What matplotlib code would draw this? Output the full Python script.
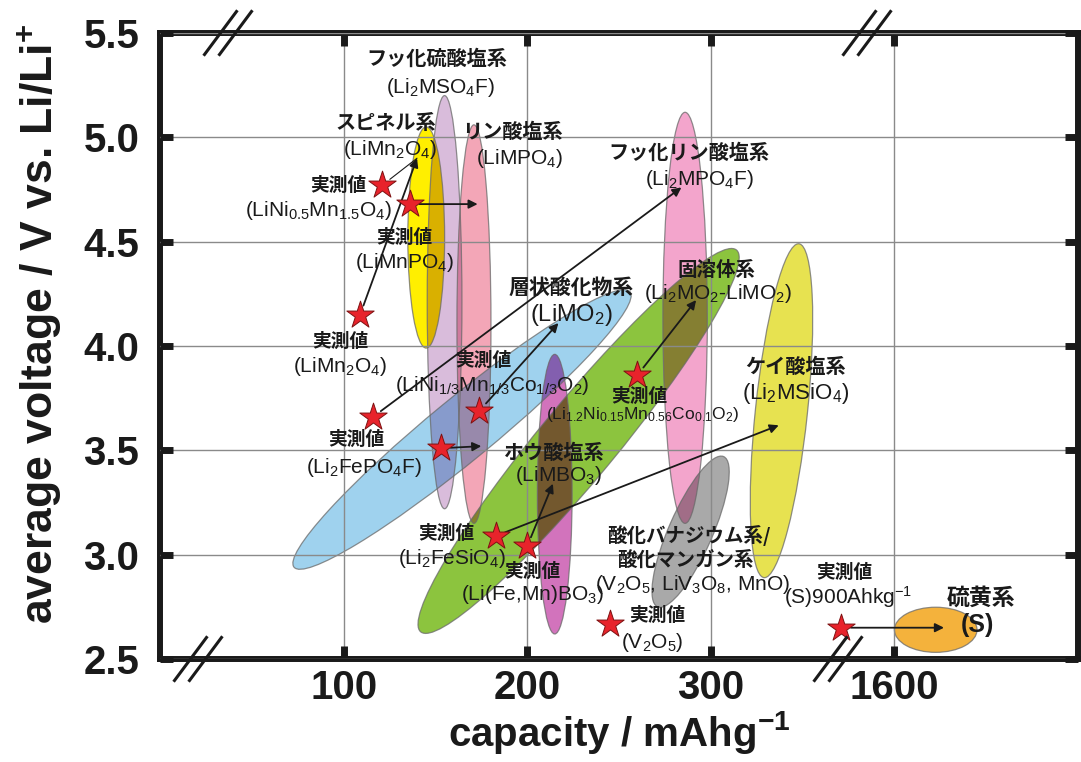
import numpy as np
import matplotlib
matplotlib.use("Agg")
import matplotlib.pyplot as plt
from matplotlib.patches import Ellipse
from matplotlib.transforms import IdentityTransform
from matplotlib.colors import to_rgb

plt.rcParams['font.family'] = ['Liberation Sans', 'Noto Sans CJK JP', 'DejaVu Sans']
plt.rcParams['mathtext.fontset'] = 'custom'
plt.rcParams['mathtext.rm'] = 'Liberation Sans'
plt.rcParams['mathtext.it'] = 'Liberation Sans:italic'
plt.rcParams['mathtext.bf'] = 'Liberation Sans:bold'

#-----data-----

# material families: (capacity mAh/g, voltage V) at both ends of each region
family_keys = ["spinel", "fluorosulfate", "phosphate", "layered", "solid_solution",
               "borate", "fluorophosphate", "vanadium", "silicate", "sulfur"]
family_cap_lo = [145, 155, 171, 73, 142, 215, 286, 271, 329, 1600]
family_v_lo = [3.99, 3.22, 3.15, 2.94, 2.63, 2.62, 3.15, 2.75, 2.89, 2.64]
family_cap_hi = [145, 155, 171, 256, 314, 215, 286, 307, 348, 1645]
family_v_hi = [5.05, 5.20, 5.06, 4.26, 4.46, 3.96, 5.12, 3.47, 4.49, 2.64]

# measured cells (stars) and the family each one points to
meas_keys = ["LiNi0.5Mn1.5O4", "LiMnPO4", "LiMn2O4", "Li2FePO4F", "LiNi1/3Mn1/3Co1/3O2",
             "LiFePO4", "Li1.2Ni0.15Mn0.56Co0.1O2", "Li2FeSiO4", "Li(Fe,Mn)BO3", "V2O5", "S"]
meas_cap = [121, 136, 109, 116, 174, 153, 260, 183, 200, 245, 900]
meas_v = [4.77, 4.68, 4.15, 3.66, 3.69, 3.51, 3.86, 3.09, 3.04, 2.67, 2.65]
target_cap = [140, 173, 140, 284, 217, 175, 292, 337, 214, None, 1627]
target_v = [4.90, 4.68, 4.90, 4.76, 4.11, 3.52, 4.22, 3.62, 3.34, None, 2.65]

xtick_vals = [100, 200, 300, 1600]
ytick_vals = [2.5, 3.0, 3.5, 4.0, 4.5, 5.0, 5.5]

# broken capacity axis: 360..1580 squeezed into a short gap
real_knots = np.array([-200.0, 360.0, 900.0, 1580.0, 2400.0])
comp_knots = np.array([-200.0, 360.0, 371.0, 380.0, 1200.0])

def fwd(x):
    return np.interp(x, real_knots, comp_knots)

def inv(x):
    return np.interp(x, comp_knots, real_knots)

#-----style-----
fill_colors = ['#FFEF00', '#D9BCDB', '#F3A6B7', '#9FD2EE', '#8CC43E',
               '#D273BC', '#F3A5CC', '#A9A9A9', '#E7E250', '#F4B23C']
thick_pt = [26.5, 25, 24.5, 45, 55, 25, 32, 31.5, 37.5, 32.5]
ink = '#1a1a1a'

fig = plt.figure(figsize=(10.81, 7.62), dpi=100)
ax = fig.add_axes([160 / 1081, 103 / 762, 918 / 1081, 626 / 762])
ax.set_xscale('function', functions=(fwd, inv))
ax.set_xlim(0, 1700)
ax.set_ylim(2.5, 5.5)


def band(i, **kw):
    p0, p1 = ax.transData.transform([(family_cap_lo[i], family_v_lo[i]),
                                     (family_cap_hi[i], family_v_hi[i])])
    d = p1 - p0
    ang = np.degrees(np.arctan2(d[1], d[0]))
    return Ellipse((p0 + p1) / 2, np.hypot(*d), thick_pt[i] * fig.dpi / 72,
                   angle=ang, transform=IdentityTransform(), **kw)


n = len(family_keys)
fills = []
for i in range(n):
    e = band(i, facecolor=fill_colors[i], edgecolor='none', zorder=1)
    ax.add_patch(e)
    fills.append(e)

# overlaps get the product of both colours
for i in range(n):
    for j in range(i + 1, n):
        mix = tuple(np.array(to_rgb(fill_colors[i])) * np.array(to_rgb(fill_colors[j])))
        e = band(j, facecolor=mix, edgecolor='none', zorder=1.1)
        ax.add_patch(e)
        e.set_clip_path(fills[i])

for i in range(n):
    ax.add_patch(band(i, facecolor='none', edgecolor='#6a6a6a', lw=0.9, alpha=0.75, zorder=1.2))

# arrows from measured values to their family
for k in range(len(meas_keys)):
    if target_cap[k] is None:
        continue
    if meas_keys[k] == "LiNi0.5Mn1.5O4":
        props = dict(arrowstyle='-', color=ink, lw=0.8, shrinkA=7, shrinkB=0)
    else:
        props = dict(arrowstyle='-|>', color=ink, lw=1.3, mutation_scale=13,
                     shrinkA=7, shrinkB=0)
    ax.annotate('', xy=(target_cap[k], target_v[k]), xytext=(meas_cap[k], meas_v[k]),
                arrowprops=props, zorder=4)

ax.scatter(meas_cap, meas_v, marker='*', s=430, c='#E8232B', edgecolors='#7d1212',
           linewidths=0.7, zorder=5)

# axes
ax.set_xticks(xtick_vals)
ax.set_xticklabels([str(v) for v in xtick_vals])
ax.set_yticks(ytick_vals)
ax.set_yticklabels(['%.1f' % v for v in ytick_vals])
ax.minorticks_off()
ax.set_axisbelow(False)
ax.grid(True, color='#8a8a8a', lw=1.0)
for s in ax.spines.values():
    s.set_linewidth(4.3)
    s.set_color(ink)
ax.tick_params(direction='in', length=9.5, width=5, top=True, right=True, color=ink)
ax.tick_params(axis='x', labelsize=29, pad=7)
ax.tick_params(axis='y', labelsize=29, pad=15)
for t in ax.get_xticklabels() + ax.get_yticklabels():
    t.set_fontweight('bold')
    t.set_color(ink)

ax.set_xlabel(r'capacity / mAhg$^{\mathbf{-1}}$', fontsize=29, fontweight='bold', color=ink, labelpad=2)
ax.set_ylabel(r'average voltage / V vs. Li/Li$^{\mathbf{+}}$', fontsize=32, fontweight='bold',
              color=ink)
ax.yaxis.set_label_coords(-0.105, 0.535)

# axis break marks, in axes fraction
def brk(xf, yf):
    dx, dy, gap = 16 / 918, 21.5 / 626, 7.5 / 918
    for o in (-gap, gap):
        ax.plot([xf + o - dx, xf + o + dx], [yf - dy, yf + dy], color=ink, lw=2.2,
                transform=ax.transAxes, clip_on=False, zorder=10)

brk(38 / 918, 0.0)
brk(68 / 918, 1.0)
brk(678 / 918, 0.0)
brk(707 / 918, 1.0)

# labels
jp = dict(fontfamily=['Noto Sans CJK JP'], fontweight='bold', color=ink, ha='center', va='center', zorder=6)
fm = dict(fontsize=15, color=ink, ha='center', va='center', zorder=6)

ax.text(151, 5.38, 'フッ化硫酸塩系', fontsize=14.5, **jp)
ax.text(153, 5.24, r'(Li$_2$MSO$_4$F)', **fm)
ax.text(123, 5.07, 'スピネル系', fontsize=14.5, **jp)
ax.text(125, 4.94, r'(LiMn$_2$O$_4$)', **fm)
ax.text(97, 4.77, '実測値', fontsize=13.5, **jp)
ax.text(86, 4.65, r'(LiNi$_{0.5}$Mn$_{1.5}$O$_4$)', **fm)
ax.text(133, 4.52, '実測値', fontsize=13.5, **jp)
ax.text(133, 4.40, r'(LiMnPO$_4$)', **fm)
ax.text(192, 5.03, 'リン酸塩系', fontsize=14.5, **jp)
ax.text(196, 4.90, r'(LiMPO$_4$)', **fm)
ax.text(288, 4.93, 'フッ化リン酸塩系', fontsize=14.5, **jp)
ax.text(294, 4.80, r'(Li$_2$MPO$_4$F)', **fm)
ax.text(224, 4.28, '層状酸化物系', fontsize=15, **jp)
ax.text(224, 4.15, r'(LiMO$_2$)', fontsize=17, color=ink, ha='center', va='center', zorder=6)
ax.text(303, 4.36, '固溶体系', fontsize=14, **jp)
ax.text(304, 4.25, r'(Li$_2$MO$_2$-LiMO$_2$)', **fm)
ax.text(98, 4.02, '実測値', fontsize=13.5, **jp)
ax.text(98, 3.90, r'(LiMn$_2$O$_4$)', **fm)
ax.text(176, 3.93, '実測値', fontsize=13.5, **jp)
ax.text(181, 3.81, r'(LiNi$_{1/3}$Mn$_{1/3}$Co$_{1/3}$O$_2$)', **fm)
ax.text(261, 3.76, '実測値', fontsize=13.5, **jp)
ax.text(263, 3.67, r'(Li$_{1.2}$Ni$_{0.15}$Mn$_{0.56}$Co$_{0.1}$O$_2$)', fontsize=12.5,
        color=ink, ha='center', va='center', zorder=6)
ax.text(346, 3.90, 'ケイ酸塩系', fontsize=14.5, **jp)
ax.text(346, 3.77, r'(Li$_2$MSiO$_4$)', fontsize=16, color=ink, ha='center', va='center', zorder=6)
ax.text(107, 3.55, '実測値', fontsize=13.5, **jp)
ax.text(111, 3.42, r'(Li$_2$FePO$_4$F)', **fm)
ax.text(215, 3.49, 'ホウ酸塩系', fontsize=14.5, **jp)
ax.text(217, 3.38, r'(LiMBO$_3$)', **fm)
ax.text(156, 3.10, '実測値', fontsize=13.5, **jp)
ax.text(159, 2.98, r'(Li$_2$FeSiO$_4$)', **fm)
ax.text(203, 2.92, '実測値', fontsize=13.5, **jp)
ax.text(203, 2.81, r'(Li(Fe,Mn)BO$_3$)', **fm)
ax.text(288, 3.09, '酸化バナジウム系/', fontsize=14, **jp)
ax.text(286, 2.975, '酸化マンガン系', fontsize=14, **jp)
ax.text(290, 2.855, r'(V$_2$O$_5$, LiV$_3$O$_8$, MnO)', **fm)
ax.text(271, 2.71, '実測値', fontsize=13.5, **jp)
ax.text(268, 2.58, r'(V$_2$O$_5$)', **fm)
ax.annotate('実測値', xy=(900, 2.65), xytext=(2, 40), textcoords='offset points',
            fontsize=13.5, **jp)
ax.annotate(r'(S)900Ahkg$^{-1}$', xy=(900, 2.65), xytext=(5, 22), textcoords='offset points', **fm)
ax.text(1647, 2.79, '硫黄系', fontsize=16.5, **jp)
ax.text(1645, 2.665, '(S)', fontsize=18, fontweight='bold', color=ink, ha='center', va='center', zorder=6)

fig.savefig('out.png', dpi=100)
